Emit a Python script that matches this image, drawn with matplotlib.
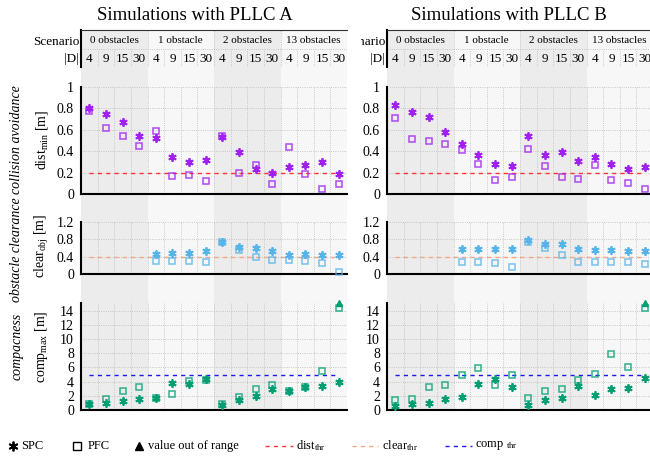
import numpy as np
import matplotlib
matplotlib.use("Agg")
import matplotlib.pyplot as plt
from matplotlib.transforms import Bbox, TransformedBbox

plt.rcParams['font.family'] = 'Liberation Serif'
plt.rcParams['mathtext.fontset'] = 'custom'
plt.rcParams['mathtext.rm'] = 'Liberation Serif'
plt.rcParams['mathtext.it'] = 'Liberation Serif:italic'

scenarios = ["0 obstacles", "1 obstacle", "2 obstacles", "13 obstacles"]
d_sizes = [4, 9, 15, 30]
nan = np.nan

# PLLC A
dist_spc_a = [0.80, 0.75, 0.675, 0.545, 0.52, 0.35, 0.30, 0.32,
              0.53, 0.39, 0.23, 0.20, 0.25, 0.27, 0.30, 0.19]
dist_pfc_a = [0.78, 0.615, 0.54, 0.45, 0.59, 0.165, 0.18, 0.12,
              0.54, 0.20, 0.27, 0.09, 0.44, 0.19, 0.045, 0.09]
clear_spc_a = [nan, nan, nan, nan, 0.46, 0.485, 0.49, 0.52,
               0.73, 0.615, 0.59, 0.53, 0.45, 0.46, 0.43, 0.44]
clear_pfc_a = [nan, nan, nan, nan, 0.31, 0.29, 0.31, 0.285,
               0.73, 0.56, 0.40, 0.315, 0.315, 0.29, 0.245, 0.055]
comp_spc_a = [0.8, 0.95, 1.2, 1.5, 1.65, 3.75, 3.65, 4.4,
              0.65, 1.4, 2.0, 2.9, 2.75, 3.3, 3.4, 4.0]
comp_pfc_a = [0.8, 1.6, 2.75, 3.2, 1.7, 2.25, 4.15, 4.25,
              0.8, 1.9, 2.95, 3.55, 2.75, 3.3, 5.55, 14.4]
out_of_range_a = [15]

# PLLC B
dist_spc_b = [0.83, 0.77, 0.72, 0.58, 0.465, 0.36, 0.28, 0.26,
              0.54, 0.36, 0.39, 0.31, 0.345, 0.285, 0.235, 0.25]
dist_pfc_b = [0.71, 0.51, 0.50, 0.465, 0.41, 0.28, 0.13, 0.155,
              0.42, 0.265, 0.16, 0.14, 0.27, 0.13, 0.10, 0.05]
clear_spc_b = [nan, nan, nan, nan, 0.575, 0.575, 0.575, 0.575,
               0.78, 0.69, 0.69, 0.585, 0.55, 0.545, 0.52, 0.52]
clear_pfc_b = [nan, nan, nan, nan, 0.275, 0.275, 0.26, 0.155,
               0.73, 0.60, 0.45, 0.275, 0.275, 0.275, 0.275, 0.23]
comp_spc_b = [0.55, 0.8, 1.05, 1.5, 1.9, 3.7, 4.35, 3.3,
              0.65, 1.35, 1.65, 3.45, 2.15, 3.0, 3.05, 4.55]
comp_pfc_b = [1.35, 1.55, 3.25, 3.55, 4.95, 5.95, 3.55, 4.95,
              1.65, 2.65, 2.9, 4.25, 5.05, 7.85, 6.05, 14.4]
out_of_range_b = [15]

dist_thr, clear_thr, comp_thr = 0.2, 0.4, 5.0

purple = '#a020f0'
skyblue = '#56b4e9'
green = '#009e73'
shades = ['#ececec', '#f7f7f7']

W, H = 650, 457
fig = plt.figure(figsize=(6.5, 4.57), dpi=100)


def px_axes(x0, y0, x1, y1, **kw):
    return fig.add_axes([x0 / W, 1 - y1 / H, (x1 - x0) / W, (y1 - y0) / H], **kw)


def panel(x0, x1, y0, y1, ylim, yticks):
    ax = px_axes(x0, y0, x1, y1, zorder=3)
    ax.patch.set_visible(False)
    ax.set_xlim(-0.5, 15.5)
    ax.set_ylim(*ylim)
    ax.set_xticks([])
    ax.set_xticks(np.arange(0.5, 16), minor=True)
    ax.set_yticks(yticks)
    ax.set_yticklabels([f"{v:g}" for v in yticks])
    ax.grid(which='minor', axis='x', ls=':', color='#b8b8b8', lw=0.6)
    ax.grid(which='major', axis='y', ls=':', color='#b8b8b8', lw=0.6)
    ax.tick_params(which='both', length=0, labelsize=10, pad=5)
    for s in ['top', 'right']:
        ax.spines[s].set_visible(False)
    for s in ['left', 'bottom']:
        ax.spines[s].set_linewidth(1.5)
    ax.set_axisbelow(True)
    return ax


def points(ax, spc, pfc, color):
    cols = np.arange(16)
    ax.plot(cols, pfc, ls='none', marker='s', ms=5, mfc='none', mec=color,
            mew=1.1, alpha=0.8, clip_on=False, zorder=4)
    ax.plot(cols, spc, ls='none', marker=(6, 2, 0), ms=6, color=color,
            mew=1.3, clip_on=False, zorder=5)


def side(x0, x1, data, title, title_x, left):
    (dspc, dpfc, cspc, cpfc, mspc, mpfc, oor) = data
    bg = px_axes(x0, 30, x1, 411, zorder=0)
    bg.set_xlim(-0.5, 15.5)
    bg.set_ylim(0, 1)
    bg.axis('off')
    for g in range(4):
        bg.axvspan(4 * g - 0.5, 4 * g + 3.5, color=shades[g % 2], lw=0)

    fig.text(title_x / W, 1 - 15 / H, title, ha='center', va='center', fontsize=13.5)

    # header table
    hd = px_axes(x0, 30, x1, 67, zorder=2)
    hd.patch.set_visible(False)
    hd.set_xlim(-0.5, 15.5)
    hd.set_ylim(0, 2)
    hd.set_xticks([])
    hd.set_yticks([])
    for s in ['bottom', 'right']:
        hd.spines[s].set_visible(False)
    hd.spines['left'].set_linewidth(1.5)
    hd.spines['top'].set_linewidth(0.8)
    hd.spines['top'].set_color('#333333')
    hd.vlines(np.arange(0.5, 16), 0, 1, ls=':', color='#b8b8b8', lw=0.6)
    hd.vlines([3.5, 7.5, 11.5, 15.5], 1, 2, ls=':', color='#b8b8b8', lw=0.6)
    hd.hlines(1, -0.5, 15.5, ls=':', color='#b8b8b8', lw=0.6)
    for g, name in enumerate(scenarios):
        hd.text(4 * g + 1.5, 1.45, name, ha='center', va='center', fontsize=8)
        for k, d in enumerate(d_sizes):
            hd.text(4 * g + k, 0.45, str(d), ha='center', va='center', fontsize=9.5)
    t = fig.text((x0 - 2) / W, 1 - 42 / H, "Scenario", ha='right', va='center',
                 fontsize=9.5)
    if not left:
        # the left block covers the start of this label
        t.set_clip_on(True)
        t.set_clip_box(TransformedBbox(Bbox([[361 / W, 0], [1, 1]]), fig.transFigure))
    fig.text((x0 - 2) / W, 1 - 59 / H, "|D|", ha='right', va='center', fontsize=9.5)

    # collision avoidance
    ax1 = panel(x0, x1, 87, 194, (0, 1), [0, 0.2, 0.4, 0.6, 0.8, 1])
    ax1.hlines(dist_thr, 0, 15, ls=(0, (3, 3)), color='#ff3333', lw=1, zorder=3)
    points(ax1, dspc, dpfc, purple)

    # obstacle clearance
    ax2 = panel(x0, x1, 222, 274, (0, 1.2), [0, 0.4, 0.8, 1.2])
    ax2.hlines(clear_thr, 0, 15, ls=(0, (3, 3)), color='#f4a582', lw=1, zorder=3)
    points(ax2, cspc, cpfc, skyblue)

    # compactness
    ax3 = panel(x0, x1, 303, 410, (0, 15.1), [0, 2, 4, 6, 8, 10, 12, 14])
    ax3.hlines(comp_thr, 0, 15, ls=(0, (3, 3)), color='#1a1aee', lw=1, zorder=3)
    points(ax3, mspc, mpfc, green)
    ax3.plot(oor, [15.1] * len(oor), ls='none', marker='^', ms=5, color=green,
             clip_on=False, zorder=6)

    if left:
        fig.text(17 / W, 1 - 140 / H, "collision avoidance", rotation=90,
                 style='italic', ha='center', va='center', fontsize=10)
        fig.text(42 / W, 1 - 140 / H, r"dist$_\mathrm{min}$ [m]", rotation=90,
                 ha='center', va='center', fontsize=10)
        fig.text(17 / W, 1 - 250 / H, "obstacle clearance", rotation=90,
                 style='italic', ha='center', va='center', fontsize=10)
        fig.text(42 / W, 1 - 246 / H, r"clear$_\mathrm{obj}$ [m]", rotation=90,
                 ha='center', va='center', fontsize=10)
        fig.text(17 / W, 1 - 346 / H, "compacness", rotation=90,
                 style='italic', ha='center', va='center', fontsize=10)
        fig.text(42 / W, 1 - 347 / H, r"comp$_\mathrm{max}$ [m]", rotation=90,
                 ha='center', va='center', fontsize=10)


side(81, 347, (dist_spc_a, dist_pfc_a, clear_spc_a, clear_pfc_a,
               comp_spc_a, comp_pfc_a, out_of_range_a),
     "Simulations with PLLC A", 195, True)
side(387, 653, (dist_spc_b, dist_pfc_b, clear_spc_b, clear_pfc_b,
                comp_spc_b, comp_pfc_b, out_of_range_b),
     "Simulations with PLLC B", 509, False)

# legend
lg = px_axes(0, 0, W, H, zorder=10)
lg.set_xlim(0, W)
lg.set_ylim(H, 0)
lg.axis('off')
ly = 446
lg.plot(13, ly, marker=(6, 2, 0), ms=7, color='black', mew=1.3)
lg.text(21, ly, "SPC", va='center', fontsize=9)
lg.plot(77, ly, marker='s', ms=6, mfc='none', mec='black', mew=1)
lg.text(88, ly, "PFC", va='center', fontsize=9)
lg.plot(139, ly, marker='^', ms=6, color='black')
lg.text(148, ly, "value out of range", va='center', fontsize=9)
lg.plot([265, 293], [ly, ly], ls=(0, (3, 3)), color='#ff3333', lw=1)
lg.text(296, ly, r"dist$_\mathrm{thr}$", va='center', fontsize=9)
lg.plot([352, 378], [ly, ly], ls=(0, (3, 3)), color='#f4a582', lw=1)
lg.text(382, ly, r"clear$_\mathrm{thr}$", va='center', fontsize=9)
lg.plot([445, 472], [ly, ly], ls=(0, (3, 3)), color='#1a1aee', lw=1)
lg.text(475, ly, r"comp $_\mathrm{thr}$", va='center', fontsize=9)

fig.savefig("out.png", dpi=100)
